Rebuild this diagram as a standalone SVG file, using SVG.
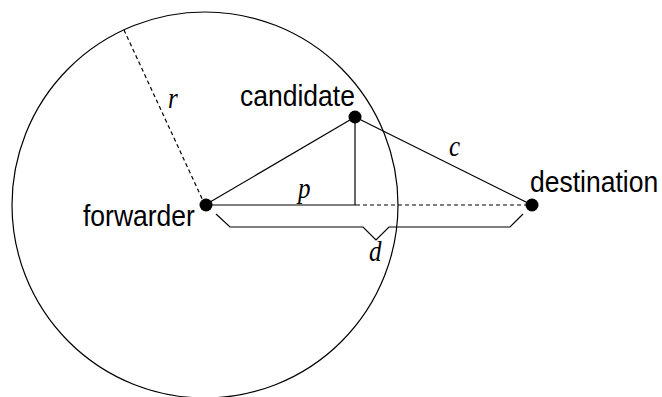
<svg xmlns="http://www.w3.org/2000/svg" width="662" height="397" viewBox="0 0 662 397">
<style>
.ln{fill:none;stroke:#000;stroke-width:1.2}
.dash{fill:none;stroke:#000;stroke-width:1.2;stroke-dasharray:4,3}
.dot{fill:#000}
.lbl{font-family:"Liberation Sans",Arial,sans-serif;font-size:26.5px;fill:#000}
.var{font-family:"Liberation Serif","Times New Roman",serif;font-style:italic;font-size:25px;fill:#000}
</style>
<rect width="662" height="397" fill="#fff"/>
<g id="range">
<circle cx="205" cy="205" r="193" class="ln"/>
<line x1="205" y1="205" x2="124" y2="30" class="dash" stroke-dasharray="3,3"/>
<text class="var" transform="translate(168,108) scale(1,1.14)">r</text>
</g>
<g id="connectors">
<line x1="205" y1="205" x2="355" y2="117" class="ln"/>
<line x1="355" y1="117" x2="532" y2="205" class="ln"/>
<line x1="355" y1="117" x2="355" y2="205" class="ln"/>
<line x1="205" y1="205" x2="356" y2="205" class="ln"/>
<line x1="356" y1="205" x2="532" y2="205" class="dash"/>
<polyline points="216,214 230,227 363,227 376,240 389,227 510,227 523,214" class="ln"/>
<text class="var" transform="translate(298,198) scale(1,1.14)">p</text>
<text class="var" transform="translate(369,261) scale(1,1.14)">d</text>
<text class="var" transform="translate(449,156) scale(1,1.14)">c</text>
</g>
<g id="forwarder">
<circle cx="206" cy="205" r="6.5" class="dot"/>
<text class="lbl" transform="translate(83,226) scale(1,1.14)">forwarder</text>
</g>
<g id="candidate">
<circle cx="355" cy="117" r="6.5" class="dot"/>
<text class="lbl" transform="translate(240,106) scale(1,1.14)">candidate</text>
</g>
<g id="destination">
<circle cx="532" cy="205" r="6.5" class="dot"/>
<text class="lbl" transform="translate(530,192) scale(1,1.14)">destination</text>
</g>
</svg>
